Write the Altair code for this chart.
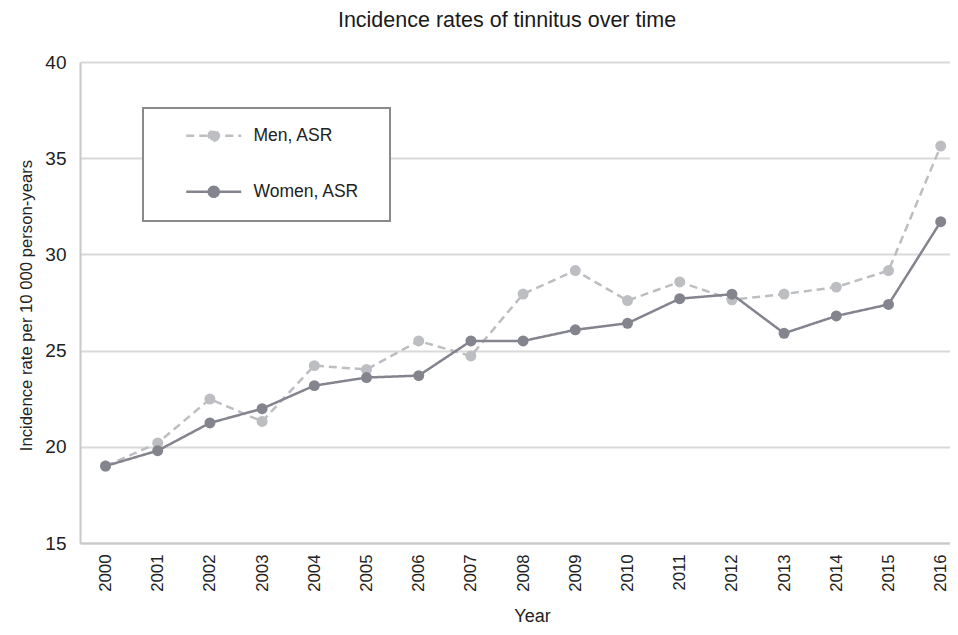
import altair as alt
import pandas as pd

# ---- data ----
years = list(range(2000, 2017))
men = [19.0, 20.2, 22.48, 21.32, 24.22, 24.02, 25.5, 24.72, 27.94, 29.16, 27.6,
       28.57, 27.64, 27.94, 28.3, 29.16, 35.63]
women = [19.0, 19.8, 21.24, 21.98, 23.18, 23.6, 23.7, 25.5, 25.5, 26.08, 26.42,
         27.7, 27.93, 25.9, 26.8, 27.4, 31.7]
series_names = ["Men, ASR", "Women, ASR"]
y_ticks = [15, 20, 25, 30, 35, 40]

series_colors = ["#bdbec2", "#84848e"]
series_dash = [[8, 5], [1, 0]]

df = pd.DataFrame({
    "year": years + years,
    "rate": men + women,
    "series": [series_names[0]] * len(years) + [series_names[1]] * len(years),
})

FONT = "Liberation Sans"

color_scale = alt.Scale(domain=series_names, range=series_colors)
dash_scale = alt.Scale(domain=series_names, range=series_dash)

legend_path = "M-5.5,0H5.5M1,0A1,1,0,1,1,-1,0A1,1,0,1,1,1,0Z"
legend = alt.Legend(
    orient="none", legendX=63, legendY=46, title=" ", titleOrient="right",
    titlePadding=12, titleFontSize=17,
    symbolType=legend_path, symbolSize=100, symbolStrokeWidth=2.5,
    symbolOffset=43, labelOffset=31, padding=19, rowPadding=35,
    strokeColor="#8a8a8a", fillColor="#ffffff",
    labelFontSize=17.5, labelColor="#222222", labelFont=FONT,
)

x_enc = alt.X(
    "year:Q",
    scale=alt.Scale(domain=[1999.511, 2016.178], nice=False, zero=False),
    axis=alt.Axis(
        values=years, format="d", labelAngle=270, labelPadding=11,
        labelFontSize=16.8, labelColor="#222222", labelFont=FONT,
        ticks=False, grid=False, domainColor="#c8c8c8", domainWidth=2,
        title="Year", titleFontSize=18, titleFontWeight="normal",
        titleColor="#222222", titleFont=FONT, titleX=452, titleY=78,
        titleBaseline="alphabetic", labelFlush=False, labelOverlap=False,
    ),
)
y_enc = alt.Y(
    "rate:Q",
    scale=alt.Scale(domain=[15, 40], nice=False, zero=False),
    axis=alt.Axis(
        values=y_ticks, labelFontSize=19, labelColor="#222222", labelFont=FONT,
        labelPadding=14, ticks=False, grid=True, gridColor="#d9d9d9",
        gridWidth=2, domainColor="#c8c8c8", domainWidth=2,
        title="Incidence rate per 10 000 person-years", titleFontSize=16.7,
        titleFontWeight="normal", titleColor="#222222", titleFont=FONT,
        titleAngle=270, titleX=-54, titleY=243, titleAlign="center",
        titleBaseline="middle",
    ),
)

layers = []
for name in series_names:
    base = alt.Chart(df).transform_filter(alt.datum.series == name).encode(x=x_enc, y=y_enc)
    line = base.mark_line(strokeWidth=2.5).encode(
        stroke=alt.Stroke("series:N", scale=color_scale, legend=legend),
        strokeDash=alt.StrokeDash("series:N", scale=dash_scale, legend=legend),
    )
    pts = base.mark_point(filled=True, size=120, opacity=1).encode(
        fill=alt.Fill("series:N", scale=color_scale, legend=legend),
    )
    layers += [line, pts]

chart = alt.layer(*layers).properties(
    width=870, height=481,
    title=alt.TitleParams(
        "Incidence rates of tinnitus over time", fontSize=21.5, font=FONT,
        fontWeight="normal", color="#1a1a1a", offset=22, dx=-8,
    ),
    autosize=alt.AutoSizeParams(type="none"),
    padding={"left": 72, "top": 54, "right": 0, "bottom": 84},
).configure_view(stroke=None).configure_legend(strokeWidth=2)

chart.save("out.html", embed_options={"renderer": "svg", "actions": False})
